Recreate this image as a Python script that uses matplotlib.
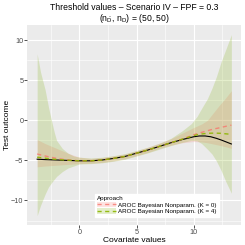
import numpy as np
import matplotlib.pyplot as plt
from matplotlib.patches import Patch
from matplotlib.lines import Line2D

plt.rcParams['font.family'] = ['Liberation Sans', 'DejaVu Sans']
plt.rcParams['mathtext.fontset'] = 'custom'
plt.rcParams['mathtext.rm'] = 'Liberation Sans'
plt.rcParams['mathtext.it'] = 'Liberation Sans'

# true threshold curve
x_true = [-3.7, -3, -2, -1, 0, 1, 2, 3, 4, 5, 6, 7, 8, 9, 10, 10.5, 11, 11.5, 12, 12.5, 13.3]
y_true = [-4.85, -4.9, -4.95, -5.0, -5.05, -5.05, -4.95, -4.75, -4.5, -4.1, -3.7, -3.25,
          -2.8, -2.4, -2.05, -1.95, -1.95, -2.05, -2.25, -2.5, -2.95]

# K = 0 estimate and band
x_k0 = [-3.7, -3, -2, -1, 0, 1, 2, 3, 4, 5, 6, 7, 8, 9, 10, 10.7, 11.2, 11.7, 12.2, 12.8, 13.3]
y_k0 = [-4.2, -4.45, -4.75, -4.95, -5.05, -5.05, -4.95, -4.75, -4.5, -4.1, -3.7, -3.25,
        -2.8, -2.35, -1.8, -1.5, -1.3, -1.1, -0.95, -0.75, -0.6]
lo_k0 = [-5.8, -5.7, -5.6, -5.5, -5.4, -5.35, -5.25, -5.05, -4.8, -4.4, -4.0, -3.5,
         -3.1, -2.8, -2.65, -2.7, -2.8, -2.95, -3.1, -3.3, -3.5]
hi_k0 = [-2.4, -2.9, -3.5, -4.1, -4.6, -4.75, -4.65, -4.45, -4.2, -3.8, -3.35, -2.85,
         -2.3, -1.6, -0.9, -0.45, 0.0, 0.9, 1.8, 2.8, 3.7]

# K = 4 estimate and band
x_k4 = [-3.7, -3.4, -3.0, -2.7, -2.45, -2.2, -2.0, -1.5, -1.0, -0.5, 0, 1, 2, 3, 4, 5, 6, 7,
        8, 9, 9.8, 10.3, 10.7, 11.2, 11.6, 12.0, 12.4, 12.8, 13.3]
y_k4 = [-4.6, -4.65, -4.72, -4.78, -4.82, -4.86, -4.88, -4.93, -4.98, -5.02, -5.05, -5.05,
        -4.95, -4.75, -4.5, -4.1, -3.7, -3.25, -2.8, -2.35, -2.0, -1.8, -1.7, -1.62, -1.6,
        -1.6, -1.62, -1.68, -1.75]
lo_k4 = [-11.9, -10.6, -9.2, -8.3, -7.8, -7.35, -7.0, -6.4, -5.95, -5.7, -5.45, -5.4,
         -5.3, -5.1, -4.85, -4.45, -4.05, -3.6, -3.15, -2.75, -2.5, -2.55, -2.9, -3.6,
         -4.2, -5.1, -6.25, -7.6, -9.1]
hi_k4 = [8.3, 6.0, 3.8, 1.6, 0.0, -1.5, -2.5, -3.5, -4.1, -4.45, -4.6, -4.7, -4.6, -4.4,
         -4.15, -3.75, -3.35, -2.85, -2.25, -1.3, -0.4, 0.5, 1.5, 2.7, 4.0, 5.5, 7.3, 8.8, 10.7]

labels = ['AROC Bayesian Nonparam. (K = 0)', 'AROC Bayesian Nonparam. (K = 4)']
col_k0 = '#F8766D'
col_k4 = '#7CAE00'

fig = plt.figure(figsize=(2.45, 2.45), dpi=100)
ax = fig.add_axes([0.112, 0.082, 0.872, 0.816])
ax.set_facecolor('#EBEBEB')

ax.fill_between(x_k0, lo_k0, hi_k0, color=col_k0, alpha=0.2, lw=0)
ax.fill_between(x_k4, lo_k4, hi_k4, color=col_k4, alpha=0.2, lw=0)
ax.plot(x_true, y_true, color='black', lw=0.8)
ax.plot(x_k0, y_k0, color=col_k0, lw=1.0, dashes=(3, 2.5), alpha=0.8)
ax.plot(x_k4, y_k4, color='#8DB600', lw=1.0, dashes=(3, 2.5), alpha=0.9)

ax.set_xlim(-4.55, 14.15)
ax.set_ylim(-13.05, 11.9)
ax.set_xticks([0, 5, 10])
ax.set_yticks([-10, -5, 0, 5, 10])
ax.set_xticks([-2.5, 2.5, 7.5, 12.5], minor=True)
ax.set_yticks([-12.5, -7.5, -2.5, 2.5, 7.5], minor=True)
ax.grid(True, which='major', color='white', lw=0.8)
ax.grid(True, which='minor', color='white', lw=0.4)
ax.set_axisbelow(True)
for s in ax.spines.values():
    s.set_visible(False)
ax.tick_params(which='major', length=2, width=0.6, color='#333333',
               labelsize=5.2, labelcolor='#4D4D4D', pad=1.0)
ax.tick_params(which='minor', length=0)

fig.text(0.547, 0.02, 'Covariate values', ha='center', va='center', fontsize=6.0)
fig.text(0.03, 0.49, 'Test outcome', ha='center', va='center', rotation=90, fontsize=6.0)

fig.text(0.547, 0.969, 'Threshold values \u2013 Scenario IV \u2013 FPF = 0.3',
         ha='center', va='center', fontsize=6.2)
fig.text(0.547, 0.926, r'$(\mathrm{n}_{\bar{\mathrm{D}}},\, \mathrm{n}_{\mathrm{D}})$ = (50, 50)',
         ha='center', va='center', fontsize=6.2)

handles = [
    (Patch(facecolor=col_k0, alpha=0.2, lw=0),
     Line2D([], [], color=col_k0, lw=1.0, dashes=(3, 2.5), alpha=0.8)),
    (Patch(facecolor=col_k4, alpha=0.2, lw=0),
     Line2D([], [], color='#8DB600', lw=1.0, dashes=(3, 2.5), alpha=0.9)),
]
leg = ax.legend(handles, labels, title='Approach', loc='lower left',
                bbox_to_anchor=(0.316, 0.042), fontsize=4.5, title_fontsize=4.5,
                frameon=True, fancybox=False, edgecolor='white', framealpha=1,
                handlelength=3.0, handleheight=1.0, handletextpad=0.4,
                labelspacing=0.1, borderpad=0.35, borderaxespad=0)
leg._legend_box.align = 'left'

fig.savefig('out.png', dpi=100)
